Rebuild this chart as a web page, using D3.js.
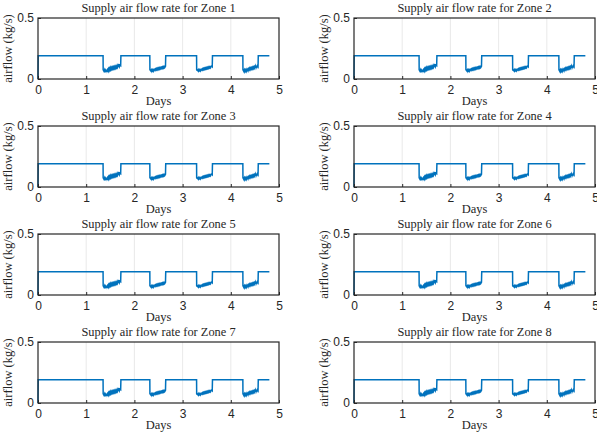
<!DOCTYPE html>
<html><head><meta charset="utf-8">
<script src="https://cdn.jsdelivr.net/npm/d3@7"></script>
<style>body{margin:0;background:#fff}svg{display:block}</style>
</head><body>
<script>
const zones = [1,2,3,4,5,6,7,8];
const xTicks = [0,1,2,3,4,5];
const yTicks = [0,0.5];
const days = [0,0.004,1.35,1.352,1.37,1.38,1.39,1.40,1.41,1.42,1.43,1.44,1.45,1.46,1.47,1.48,1.49,1.50,1.51,1.52,1.53,1.54,1.55,1.56,1.57,1.58,1.59,1.60,1.61,1.62,1.63,1.64,1.65,1.66,1.67,1.68,1.69,1.70,1.715,1.72,
 2.32,2.322,2.34,2.35,2.36,2.37,2.38,2.39,2.40,2.41,2.42,2.43,2.44,2.45,2.46,2.47,2.48,2.49,2.50,2.51,2.52,2.53,2.54,2.55,2.56,2.57,2.58,2.59,2.60,2.61,2.62,2.63,2.645,2.65,
 3.29,3.292,3.31,3.32,3.33,3.34,3.35,3.36,3.37,3.38,3.39,3.40,3.41,3.42,3.43,3.44,3.45,3.46,3.47,3.48,3.49,3.50,3.51,3.52,3.53,3.54,3.55,3.56,3.57,3.58,3.59,3.60,3.615,3.62,
 4.25,4.252,4.27,4.28,4.29,4.30,4.31,4.32,4.33,4.34,4.35,4.36,4.37,4.38,4.39,4.40,4.41,4.42,4.43,4.44,4.45,4.46,4.47,4.48,4.49,4.50,4.51,4.52,4.53,4.54,4.55,4.565,4.57,4.80];
const airflow = [0,0.19,0.19,0.075,0.062,0.074,0.056,0.072,0.063,0.077,0.058,0.074,0.065,0.081,0.068,0.085,0.074,0.091,0.078,0.093,0.082,0.095,0.084,0.097,0.086,0.099,0.088,0.101,0.090,0.103,0.093,0.107,0.096,0.111,0.098,0.122,0.103,0.115,0.110,0.19,
 0.19,0.075,0.066,0.074,0.064,0.076,0.067,0.075,0.065,0.077,0.080,0.072,0.082,0.075,0.085,0.077,0.087,0.079,0.089,0.081,0.091,0.083,0.092,0.085,0.094,0.087,0.097,0.089,0.099,0.091,0.101,0.094,0.104,0.19,
 0.19,0.074,0.068,0.075,0.066,0.077,0.069,0.076,0.067,0.078,0.080,0.073,0.083,0.076,0.086,0.078,0.088,0.080,0.090,0.082,0.092,0.084,0.094,0.086,0.096,0.088,0.098,0.091,0.100,0.093,0.103,0.106,0.100,0.19,
 0.19,0.076,0.063,0.074,0.061,0.075,0.066,0.077,0.064,0.076,0.081,0.070,0.084,0.076,0.088,0.078,0.090,0.081,0.092,0.083,0.095,0.085,0.097,0.087,0.099,0.090,0.106,0.092,0.110,0.096,0.108,0.100,0.19,0.19];

const W=597,H=434;
const svg=d3.select("body").append("svg").attr("width",W).attr("height",H);
const colX=[38,354], pw=241, rowY=[18,126,234,342], ph=61;
const x=d3.scaleLinear().domain([0,5]).range([0,pw]);
const y=d3.scaleLinear().domain([0,0.5]).range([ph,0]);
const pts=days.map((d,i)=>[d,airflow[i]]);
const line=d3.line().x(d=>x(d[0])).y(d=>y(d[1]));
const serif="Liberation Serif, DejaVu Serif, serif";
zones.forEach((z,i)=>{
  const g=svg.append("g").attr("transform",`translate(${colX[i%2]},${rowY[Math.floor(i/2)]})`);
  g.selectAll(".grid").data(xTicks.slice(1,-1)).enter().append("line")
   .attr("x1",d=>x(d)).attr("x2",d=>x(d)).attr("y1",0).attr("y2",ph)
   .attr("stroke","#e3e3e3").attr("stroke-width",0.8);
  g.append("path").datum(pts).attr("d",line).attr("fill","none")
   .attr("stroke","#0072BD").attr("stroke-width",1.5);
  const xa=g.append("g").attr("transform",`translate(0,${ph})`)
   .call(d3.axisBottom(x).tickValues(xTicks).tickSize(-3).tickPadding(6).tickFormat(d3.format("d")));
  const ya=g.append("g")
   .call(d3.axisLeft(y).tickValues(yTicks).tickSize(-3).tickPadding(4).tickFormat(d=>d===0?"0":"0.5"));
  [xa,ya].forEach(a=>{a.select(".domain").remove();
    a.selectAll("text").attr("font-family","Liberation Sans, Arial, sans-serif").attr("font-size",12).attr("fill","#262626");
    a.selectAll("line").attr("stroke","#262626");});
  g.append("rect").attr("x",0).attr("y",0).attr("width",pw).attr("height",ph)
   .attr("fill","none").attr("stroke","#262626").attr("stroke-width",1.2);
  g.append("text").attr("x",pw/2).attr("y",-6).attr("text-anchor","middle")
   .attr("font-family",serif).attr("font-size",12.4).attr("fill","#262626")
   .text(`Supply air flow rate for Zone ${z}`);
  g.append("text").attr("x",pw/2).attr("y",ph+26).attr("text-anchor","middle")
   .attr("font-family",serif).attr("font-size",12.5).attr("fill","#262626")
   .text("Days");
  g.append("text").attr("transform",`translate(-26,${ph/2}) rotate(-90)`).attr("text-anchor","middle")
   .attr("font-family",serif).attr("font-size",12.5).attr("fill","#262626")
   .text("airflow (kg/s)");
});
</script>
</body></html>
